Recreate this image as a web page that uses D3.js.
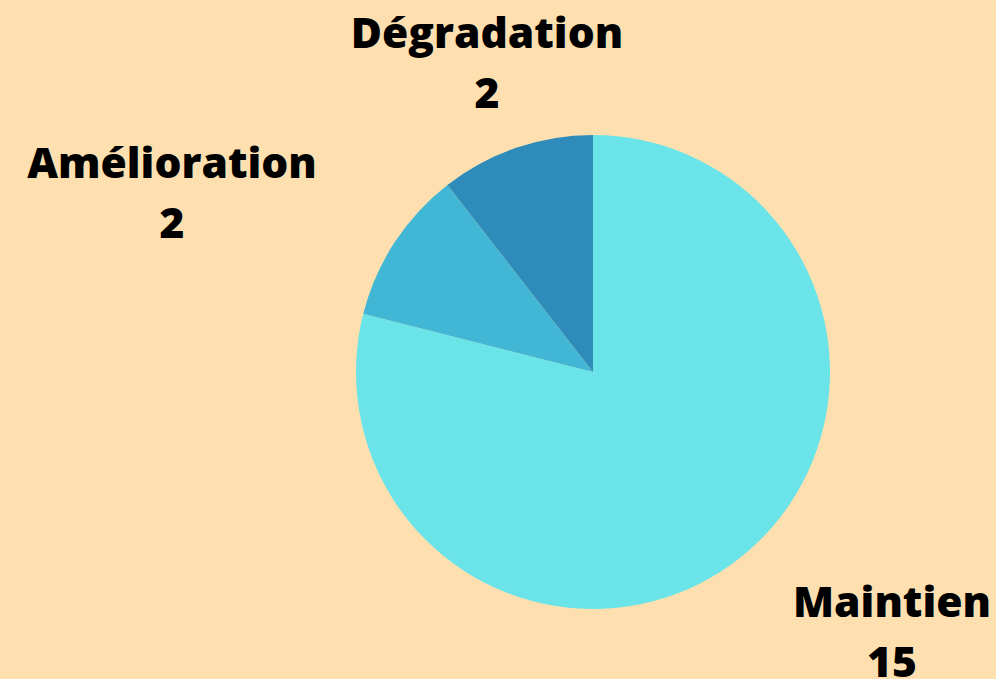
<!DOCTYPE html>
<html><head><meta charset="utf-8">
<script src="https://cdn.jsdelivr.net/npm/d3@7"></script>
<style>
html,body{margin:0;padding:0;background:#FEE0B0;}
svg{display:block;}
text{font-family:"Open Sans",sans-serif;font-weight:800;fill:#000;}
</style></head>
<body>
<script>
const categories = ["Maintien", "Amélioration", "Dégradation"];
const values = [15, 2, 2];
const colors = ["#6AE4E8", "#42B7D5", "#2E8BBA"];

const W = 996, H = 679;
const cx = 593, cy = 372, R = 237;
const labelPos = [
  {x: 892, y: 617},
  {x: 172, y: 178},
  {x: 487, y: 48}
];

const svg = d3.select("body").append("svg").attr("width", W).attr("height", H);
svg.append("rect").attr("width", W).attr("height", H).attr("fill", "#FEE0B0");

const data = categories.map((c, i) => ({cat: c, value: values[i], color: colors[i], lp: labelPos[i]}));
const pie = d3.pie().value(d => d.value).sort(null);
const arc = d3.arc().innerRadius(0).outerRadius(R);

const g = svg.append("g").attr("transform", `translate(${cx},${cy})`);
g.selectAll("path").data(pie(data)).join("path")
  .attr("d", arc).attr("fill", d => d.data.color);

const lbl = svg.selectAll("text.lbl").data(data).join("text")
  .attr("class", "lbl").attr("text-anchor", "middle")
  .attr("font-size", 42.5);
lbl.append("tspan").attr("x", d => d.lp.x).attr("y", d => d.lp.y).text(d => d.cat);
lbl.append("tspan").attr("x", d => d.lp.x).attr("y", d => d.lp.y + 60).text(d => d.value);
</script>
</body></html>
